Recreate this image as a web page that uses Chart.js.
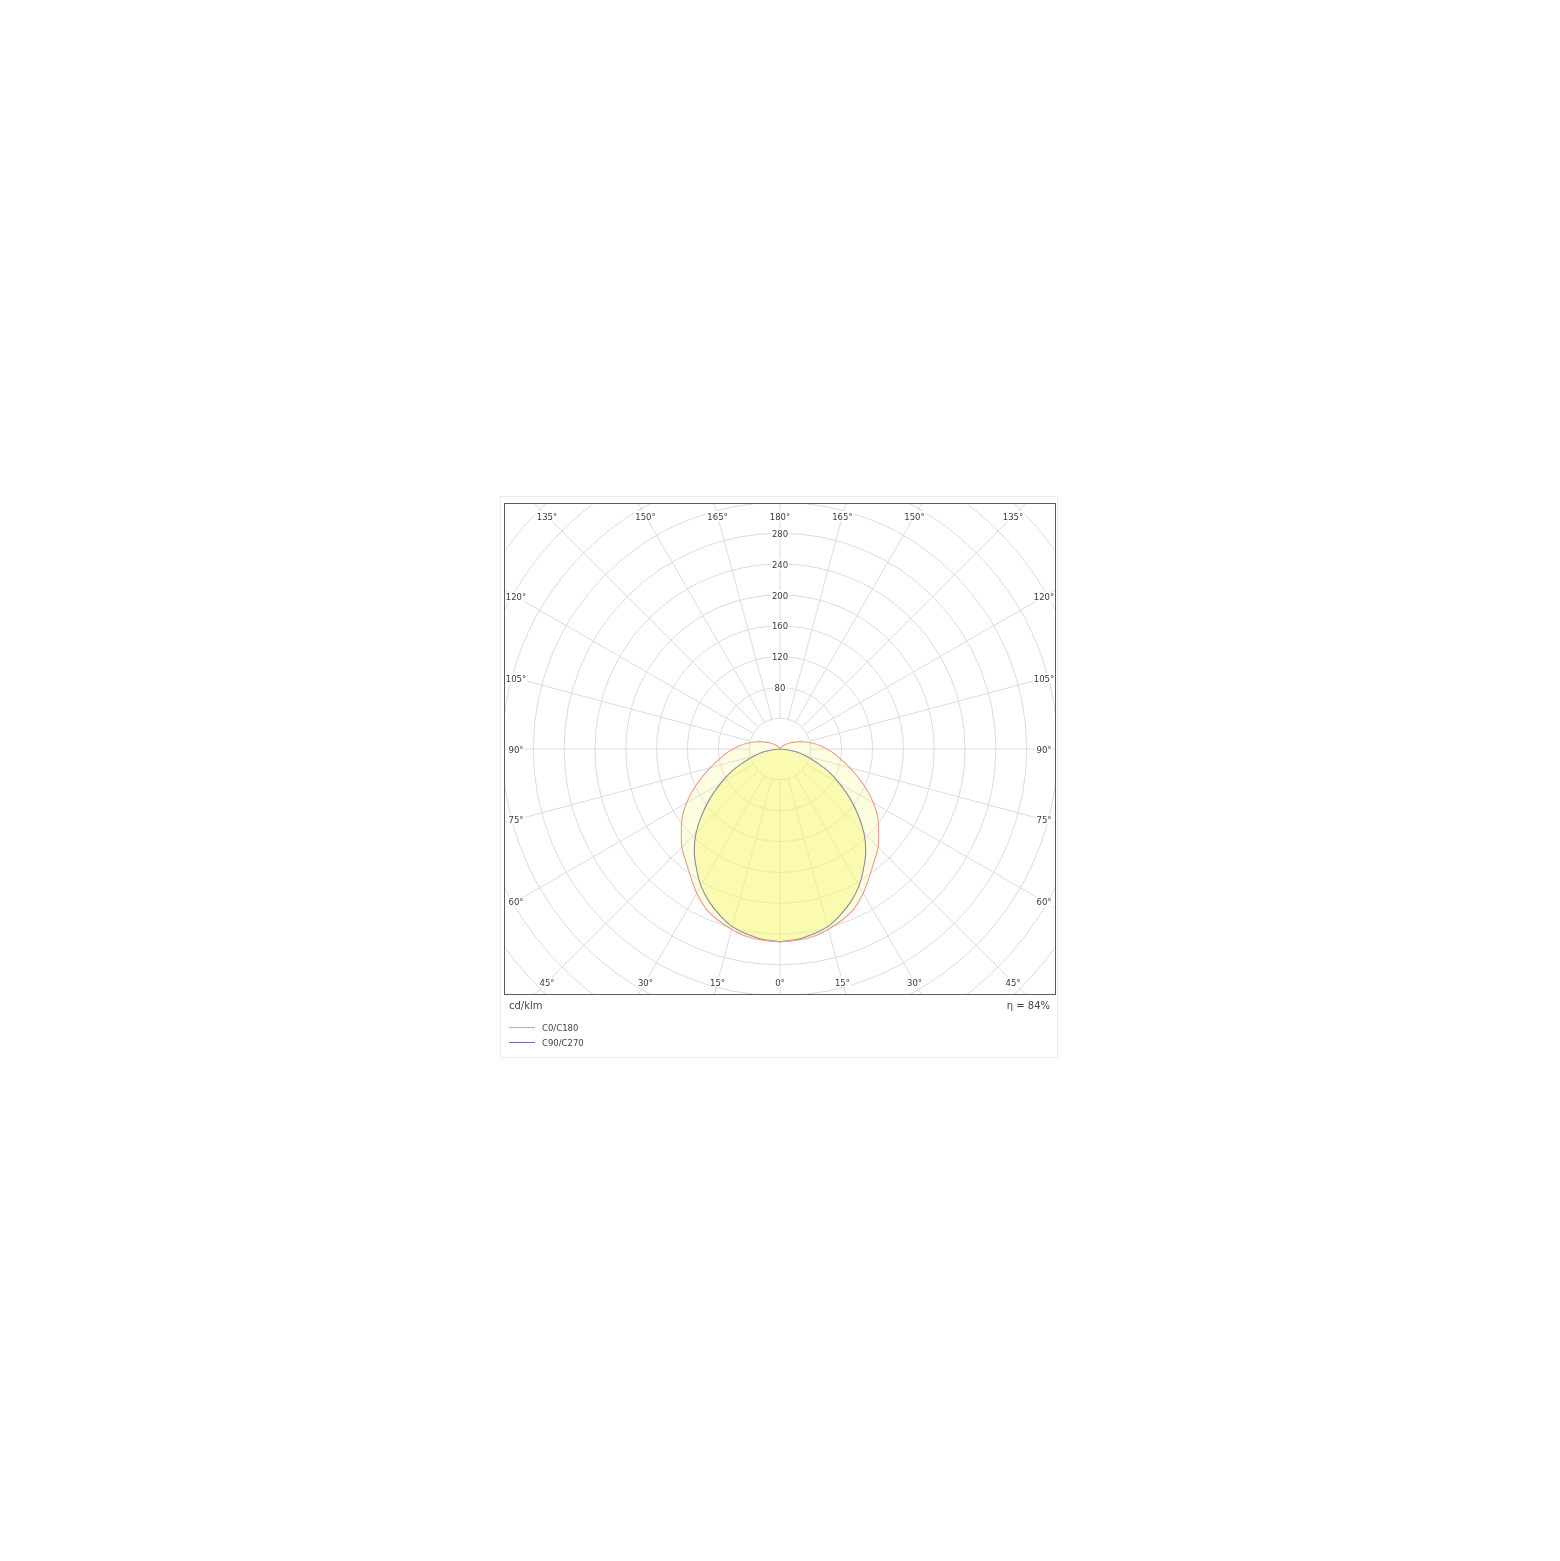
<!DOCTYPE html>
<html>
<head>
<meta charset="utf-8">
<script src="https://cdn.jsdelivr.net/npm/chart.js@4.4.1/dist/chart.umd.min.js"></script>
<style>
  html, body { margin: 0; padding: 0; background: #fff; }
  #frame { position: absolute; left: 500px; top: 496px; width: 556px; height: 560px; border: 1px solid #ececec; }
  #c { position: absolute; left: 500px; top: 496px; }
</style>
</head>
<body>
<div id="frame"></div>
<canvas id="c" width="558" height="562"></canvas>
<script>
// ---- data (cd/klm per gamma angle) ----
const gammaAngles = [0,5,10,15,20,25,30,35,40,45,50,55,60,65,70,75,80,85,90,95,100,105,110,115,120,125,130,135,140,145,150,155,160,165,170,175,180];
const c0   = [250,249,247,242,236,228,216,202,190,180,167,155,140,124,108,94,81,71,61,52,43,35,28,21,16,12,9,6,4,3,2,1.5,1,0.7,0.4,0.2,0];
const c180 = [250,249,247,242,236,228,216,202,190,180,167,155,140,124,108,94,81,71,61,52,43,35,28,21,16,12,9,6,4,3,2,1.5,1,0.7,0.4,0.2,0];
const c90  = [250,248,244,238.5,229,218,205,189,173,154,132,110,89,70,50,35,21,10,0,0,0,0,0,0,0,0,0,0,0,0,0,0,0,0,0,0,0];
const c270 = [250,248,244,238.5,229,218,205,189,173,154,132,110,89,70,50,35,21,10,0,0,0,0,0,0,0,0,0,0,0,0,0,0,0,0,0,0,0];
const seriesLabels = ['C0/C180', 'C90/C270'];
const ringValues = [40,80,120,160,200,240,280,320,360,400,440,480,520];
const ringLabels = [80,120,160,200,240,280];
const angleTicks = [0,15,30,45,60,75,90,105,120,135,150,165,180];
const unitLabel = 'cd/klm';
const efficiencyLabel = 'η = 84%';

// polar (gamma measured from straight down) -> cartesian data values
function polarCurve(right, left) {
  const pts = [];
  for (let i = 0; i < gammaAngles.length; i++) {
    const g = gammaAngles[i] * Math.PI / 180;
    pts.push({ x: right[i] * Math.sin(g), y: -right[i] * Math.cos(g) });
  }
  for (let i = gammaAngles.length - 1; i >= 0; i--) {
    const g = gammaAngles[i] * Math.PI / 180;
    pts.push({ x: -left[i] * Math.sin(g), y: -left[i] * Math.cos(g) });
  }
  return pts;
}

const FONT = '"DejaVu Sans", Verdana, sans-serif';
const TY = 1.5; // optical vertical centring of text

const polarGrid = {
  id: 'polarGrid',
  beforeDatasetsDraw(chart) {
    const { ctx, chartArea: a, scales: { x, y } } = chart;
    const cx = x.getPixelForValue(0), cy = y.getPixelForValue(0);
    const k = x.getPixelForValue(1) - cx;
    ctx.save();
    ctx.beginPath();
    ctx.rect(a.left, a.top, a.right - a.left, a.bottom - a.top);
    ctx.clip();
    ctx.strokeStyle = '#dcdcdc';
    ctx.lineWidth = 1;
    ringValues.forEach(v => {
      ctx.beginPath();
      ctx.arc(cx, cy, v * k, 0, Math.PI * 2);
      ctx.stroke();
    });
    const r0 = ringValues[0] * k;
    const r1 = ringValues[ringValues.length - 1] * k;
    for (let d = 0; d < 360; d += 15) {
      const t = d * Math.PI / 180;
      const dx = Math.sin(t), dy = Math.cos(t);
      ctx.beginPath();
      ctx.moveTo(cx + dx * r0, cy + dy * r0);
      ctx.lineTo(cx + dx * r1, cy + dy * r1);
      ctx.stroke();
    }
    ctx.restore();
  },
  afterDatasetsDraw(chart) {
    const { ctx, chartArea: a, scales: { x, y } } = chart;
    const cx = x.getPixelForValue(0), cy = y.getPixelForValue(0);
    const k = x.getPixelForValue(1) - cx;
    ctx.save();
    ctx.font = '8.5px ' + FONT;
    ctx.textAlign = 'center';
    ctx.textBaseline = 'middle';
    const label = (txt, px, py) => {
      const w = ctx.measureText(txt).width;
      ctx.fillStyle = '#fff';
      ctx.fillRect(px - w / 2 - 1, py - 5, w + 2, 10);
      ctx.fillStyle = '#3a3a3a';
      ctx.fillText(txt, px, py + TY);
    };
    // ring value labels along the upward axis
    ringLabels.forEach(v => label(String(v), cx, cy - v * k));
    // angle labels along the frame
    const insetX = 12, insetY = 13;
    angleTicks.forEach(g => {
      const sides = (g === 0 || g === 180) ? [1] : [-1, 1];
      sides.forEach(s => {
        const t = g * Math.PI / 180;
        const dx = s * Math.sin(t), dy = Math.cos(t);
        let tx = Infinity, ty = Infinity;
        if (Math.abs(dx) > 1e-9) tx = dx > 0 ? (a.right - insetX - cx) / dx : (a.left + insetX - cx) / dx;
        if (Math.abs(dy) > 1e-9) ty = dy > 0 ? (a.bottom - insetY - cy) / dy : (a.top + insetY - cy) / dy;
        const tt = Math.min(tx, ty);
        label(g + '°', cx + dx * tt, cy + dy * tt);
      });
    });
    // frame
    ctx.strokeStyle = '#5c5c5c';
    ctx.lineWidth = 1;
    ctx.strokeRect(a.left + 0.5, a.top + 0.5, a.right - a.left - 1, a.bottom - a.top - 1);
    // unit and efficiency
    ctx.fillStyle = '#444';
    ctx.font = '10px ' + FONT;
    ctx.textAlign = 'left';
    ctx.fillText(unitLabel, a.left + 5, a.bottom + 10 + TY);
    ctx.textAlign = 'right';
    ctx.fillText(efficiencyLabel, a.right - 6, a.bottom + 10 + TY);
    // legend
    ctx.font = '8.5px ' + FONT;
    ctx.textAlign = 'left';
    chart.data.datasets.forEach((ds, i) => {
      const ly = a.bottom + 32 + i * 15;
      ctx.strokeStyle = ds.borderColor;
      ctx.lineWidth = 1;
      ctx.beginPath();
      ctx.moveTo(a.left + 5, ly + 0.5);
      ctx.lineTo(a.left + 31, ly + 0.5);
      ctx.stroke();
      ctx.fillStyle = '#444';
      ctx.fillText(ds.label, a.left + 38, ly + TY);
    });
    ctx.restore();
  }
};

new Chart(document.getElementById('c'), {
  type: 'scatter',
  data: {
    datasets: [
      {
        label: seriesLabels[0],
        data: polarCurve(c0, c180),
        showLine: true,
        borderColor: '#ee9a90',
        borderWidth: 1.1,
        backgroundColor: 'rgba(245,245,120,0.22)',
        fill: 'shape',
        pointRadius: 0,
        tension: 0.4
      },
      {
        label: seriesLabels[1],
        data: polarCurve(c90, c270),
        showLine: true,
        borderColor: '#6e6eae',
        borderWidth: 1.1,
        backgroundColor: 'rgba(245,245,100,0.40)',
        fill: 'shape',
        pointRadius: 0,
        tension: 0.4
      }
    ]
  },
  options: {
    responsive: false,
    animation: false,
    devicePixelRatio: 1,
    layout: { padding: { left: 4, top: 7, right: 2, bottom: 63 } },
    scales: {
      x: { type: 'linear', min: -358, max: 358, display: false },
      y: { type: 'linear', min: -319, max: 319, display: false }
    },
    plugins: { legend: { display: false }, tooltip: { enabled: false } }
  },
  plugins: [polarGrid]
});
</script>
</body>
</html>
